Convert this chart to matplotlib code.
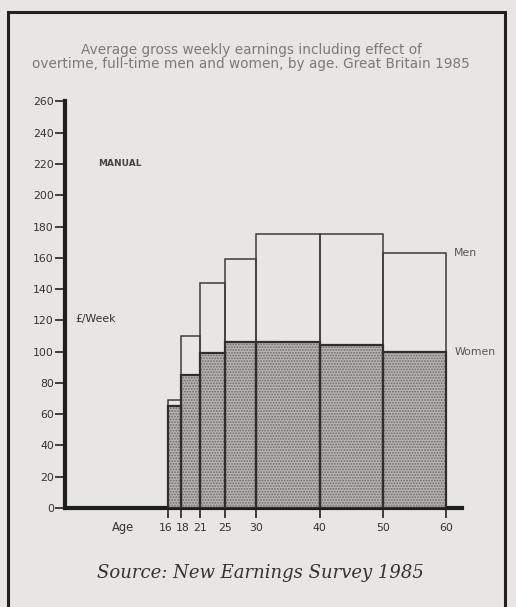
import matplotlib
matplotlib.use("Agg")
import matplotlib.pyplot as plt
from matplotlib.patches import Rectangle
from matplotlib.transforms import ScaledTranslation

# age bands (edges) and weekly earnings, manual workers, GB 1985
age_edges = [16, 18, 21, 25, 30, 40, 50, 60]
men = [69, 110, 144, 159, 175, 175, 163]
women = [65, 85, 99, 106, 106, 104, 100]
yticks = list(range(0, 261, 20))

plt.rcParams['hatch.linewidth'] = 0.9

fig = plt.figure(figsize=(5.16, 6.07), dpi=100, facecolor='#e8e6e2')
ax = fig.add_axes([0.126, 0.163, 0.769, 0.670])
ax.set_facecolor('none')

lefts = age_edges[:-1]
widths = [b - a for a, b in zip(age_edges[:-1], age_edges[1:])]

# men: outline only
ax.bar(lefts, men, width=widths, align='edge', fill=False,
       edgecolor='#3c3c3c', linewidth=1.1, zorder=2)
# women: dotted grey fill
ax.bar(lefts, women, width=widths, align='edge', facecolor='#b8b5b1',
       edgecolor='#6c6a68', hatch='......', linewidth=0, zorder=3)
ax.bar(lefts, women, width=widths, align='edge', fill=False,
       edgecolor='#2e2e2e', linewidth=1.6, zorder=4)

ax.set_xlim(-0.3, 62.5)
ax.set_ylim(0, 260)
ax.set_yticks(yticks)
ax.set_xticks(age_edges)
ax.tick_params(axis='y', length=7, width=1.2, color='#222', pad=1,
               labelsize=7.8, labelcolor='#333')
ax.tick_params(axis='x', length=7, width=1.2, color='#222', pad=4,
               labelsize=7.8, labelcolor='#333')
# the 16 and 18 labels sit very close: nudge them apart
xlabels = ax.get_xticklabels()
xlabels[0].set_transform(xlabels[0].get_transform() +
                         ScaledTranslation(-2 / 100, 0, fig.dpi_scale_trans))
xlabels[1].set_transform(xlabels[1].get_transform() +
                         ScaledTranslation(2 / 100, 0, fig.dpi_scale_trans))
for s in ['top', 'right']:
    ax.spines[s].set_visible(False)
for s in ['left', 'bottom']:
    ax.spines[s].set_linewidth(3)
    ax.spines[s].set_color('#1e1e1e')

ax.text(5, 220, 'MANUAL', fontsize=6.5, color='#444', va='center',
        fontweight='bold')
ax.text(1.3, 121, '£/Week', fontsize=7.8, color='#333', va='center')
ax.text(61.3, men[-1], 'Men', fontsize=7.8, color='#555', va='center')
ax.text(61.3, women[-1], 'Women', fontsize=7.8, color='#555', va='center')

fig.text(123 / 516, 1 - 528 / 607, 'Age', fontsize=8.3, color='#333',
         ha='center', va='center')

fig.text(0.487, 1 - 57 / 607,
         'Average gross weekly earnings including effect of\n'
         'overtime, full-time men and women, by age. Great Britain 1985',
         fontsize=9.8, color='#7a7a7a', ha='center', va='center',
         linespacing=1.0)

fig.text(0.505, 1 - 573 / 607, 'Source: New Earnings Survey 1985',
         fontsize=13, fontstyle='italic', family='DejaVu Serif',
         color='#333', ha='center', va='center')

# outer frame of the scanned figure
fig.patches.append(Rectangle((8 / 516, -0.02), 497 / 516, 1 - 12 / 607 + 0.02,
                             transform=fig.transFigure, fill=False,
                             edgecolor='#222', linewidth=2.2))

fig.savefig('out.png', dpi=100, facecolor=fig.get_facecolor())
